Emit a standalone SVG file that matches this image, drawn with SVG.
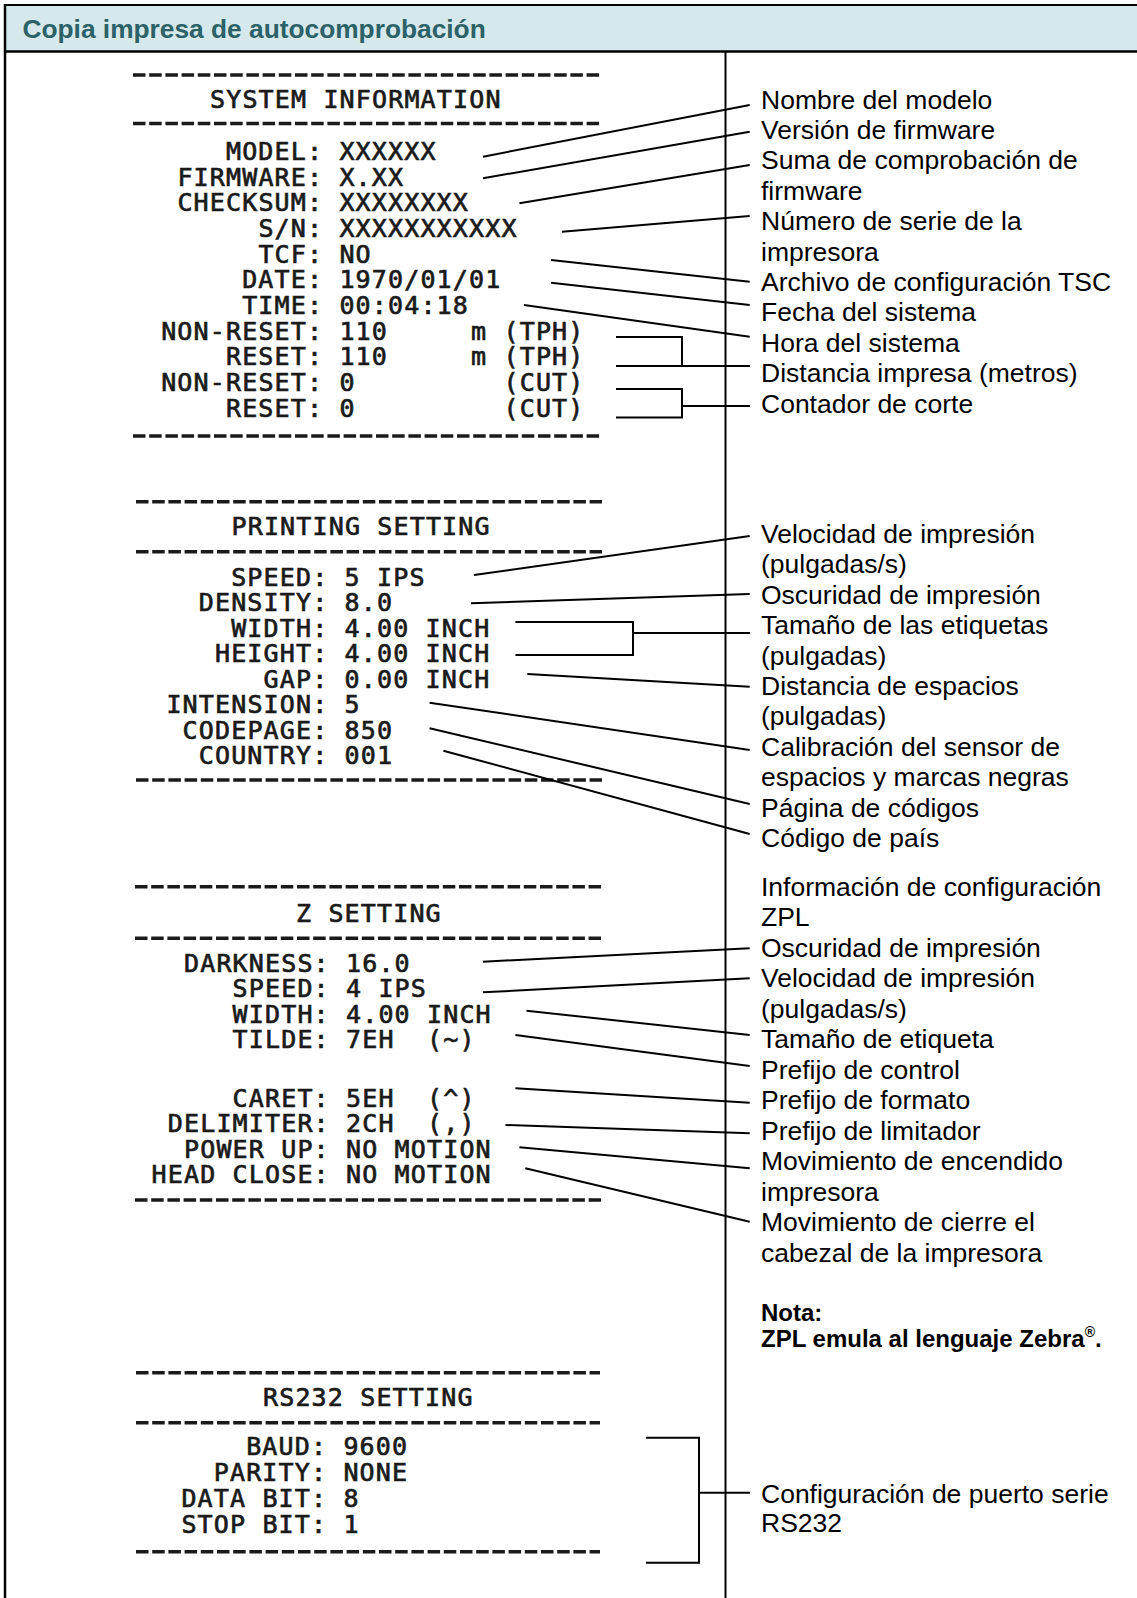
<svg xmlns="http://www.w3.org/2000/svg" width="1137" height="1598" viewBox="0 0 1137 1598">
<style>
.pt{font-family:"DejaVu Sans Mono","Liberation Mono",monospace;font-size:25px;letter-spacing:1.15px;fill:#1a1a1a;stroke:#1a1a1a;stroke-width:0.7px}
.lb{font-family:"Liberation Sans",Arial,sans-serif;font-size:26.5px;fill:#000}
.nt{font-family:"Liberation Sans",Arial,sans-serif;font-size:24px;font-weight:bold;fill:#000}
.ttl{font-family:"Liberation Sans",Arial,sans-serif;font-size:26.3px;font-weight:bold;fill:#2c6267}
.dash{stroke:#1a1a1a;stroke-width:3.6;stroke-dasharray:12.5 3.7;fill:none}
.cn{stroke:#000;stroke-width:2;fill:none}
.frame{stroke:#000;fill:none}
</style>
<rect width="1137" height="1598" fill="#fff"/>
<g id="header">
<rect x="5" y="5" width="1132" height="46" fill="#d5e8eb"/>
<text class="ttl" x="22.5" y="38">Copia impresa de autocomprobación</text>
</g>
<g id="frame">
<path class="frame" stroke-width="2" d="M4,5 H1137"/>
<path class="frame" stroke-width="2.5" d="M5,4 V1598"/>
<path class="frame" stroke-width="2.5" d="M4,51.5 H1137"/>
<path class="frame" stroke-width="2" d="M725.5,51 V1598"/>
</g>

<g id="printout-system">
<path class="dash" d="M133,75 H601 M133,123.5 H601 M133,436 H601"/>
<text class="pt" x="210" y="108">SYSTEM INFORMATION</text>
<g text-anchor="end">
<text class="pt" x="323.2" y="160">MODEL:</text>
<text class="pt" x="323.2" y="185.7">FIRMWARE:</text>
<text class="pt" x="323.2" y="211.3">CHECKSUM:</text>
<text class="pt" x="323.2" y="237">S/N:</text>
<text class="pt" x="323.2" y="262.7">TCF:</text>
<text class="pt" x="323.2" y="288.3">DATE:</text>
<text class="pt" x="323.2" y="314">TIME:</text>
<text class="pt" x="323.2" y="339.7">NON-RESET:</text>
<text class="pt" x="323.2" y="365.3">RESET:</text>
<text class="pt" x="323.2" y="391">NON-RESET:</text>
<text class="pt" x="323.2" y="416.7">RESET:</text>
</g>
<text class="pt" x="339.4" y="160">XXXXXX</text>
<text class="pt" x="339.4" y="185.7">X.XX</text>
<text class="pt" x="339.4" y="211.3">XXXXXXXX</text>
<text class="pt" x="339.4" y="237">XXXXXXXXXXX</text>
<text class="pt" x="339.4" y="262.7">NO</text>
<text class="pt" x="339.4" y="288.3">1970/01/01</text>
<text class="pt" x="339.4" y="314">00:04:18</text>
<text class="pt" x="339.4" y="339.7">110<tspan x="471">m</tspan><tspan x="503.5">(TPH)</tspan></text>
<text class="pt" x="339.4" y="365.3">110<tspan x="471">m</tspan><tspan x="503.5">(TPH)</tspan></text>
<text class="pt" x="339.4" y="391">0<tspan x="503.5">(CUT)</tspan></text>
<text class="pt" x="339.4" y="416.7">0<tspan x="503.5">(CUT)</tspan></text>
</g>

<g id="printout-printing">
<path class="dash" d="M136,501.7 H602 M136,551.7 H602 M136,780 H602"/>
<text class="pt" x="231.5" y="535">PRINTING SETTING</text>
<g text-anchor="end">
<text class="pt" x="328.4" y="586">SPEED:</text>
<text class="pt" x="328.4" y="611.4">DENSITY:</text>
<text class="pt" x="328.4" y="636.9">WIDTH:</text>
<text class="pt" x="328.4" y="662.3">HEIGHT:</text>
<text class="pt" x="328.4" y="687.7">GAP:</text>
<text class="pt" x="328.4" y="713.2">INTENSION:</text>
<text class="pt" x="328.4" y="738.6">CODEPAGE:</text>
<text class="pt" x="328.4" y="764">COUNTRY:</text>
</g>
<text class="pt" x="344.6" y="586">5 IPS</text>
<text class="pt" x="344.6" y="611.4">8.0</text>
<text class="pt" x="344.6" y="636.9">4.00 INCH</text>
<text class="pt" x="344.6" y="662.3">4.00 INCH</text>
<text class="pt" x="344.6" y="687.7">0.00 INCH</text>
<text class="pt" x="344.6" y="713.2">5</text>
<text class="pt" x="344.6" y="738.6">850</text>
<text class="pt" x="344.6" y="764">001</text>
</g>

<g id="printout-z">
<path class="dash" d="M135,886.7 H601 M135,938.3 H601 M135,1200 H601"/>
<text class="pt" x="296" y="921.7">Z SETTING</text>
<g text-anchor="end">
<text class="pt" x="329.8" y="971.7">DARKNESS:</text>
<text class="pt" x="329.8" y="997.2">SPEED:</text>
<text class="pt" x="329.8" y="1022.7">WIDTH:</text>
<text class="pt" x="329.8" y="1048.2">TILDE:</text>
<text class="pt" x="329.8" y="1106.7">CARET:</text>
<text class="pt" x="329.8" y="1132.2">DELIMITER:</text>
<text class="pt" x="329.8" y="1157.7">POWER UP:</text>
<text class="pt" x="329.8" y="1183.2">HEAD CLOSE:</text>
</g>
<text class="pt" x="346" y="971.7">16.0</text>
<text class="pt" x="346" y="997.2">4 IPS</text>
<text class="pt" x="346" y="1022.7">4.00 INCH</text>
<text class="pt" x="346" y="1048.2">7EH<tspan x="427">(~)</tspan></text>
<text class="pt" x="346" y="1106.7">5EH<tspan x="427">(^)</tspan></text>
<text class="pt" x="346" y="1132.2">2CH<tspan x="427">(,)</tspan></text>
<text class="pt" x="346" y="1157.7">NO MOTION</text>
<text class="pt" x="346" y="1183.2">NO MOTION</text>
</g>

<g id="printout-rs232">
<path class="dash" d="M136,1372.7 H600 M136,1422.7 H600 M136,1551.7 H600"/>
<text class="pt" x="263" y="1406">RS232 SETTING</text>
<g text-anchor="end">
<text class="pt" x="327.2" y="1455">BAUD:</text>
<text class="pt" x="327.2" y="1480.7">PARITY:</text>
<text class="pt" x="327.2" y="1506.5">DATA BIT:</text>
<text class="pt" x="327.2" y="1532.5">STOP BIT:</text>
</g>
<text class="pt" x="343.4" y="1455">9600</text>
<text class="pt" x="343.4" y="1480.7">NONE</text>
<text class="pt" x="343.4" y="1506.5">8</text>
<text class="pt" x="343.4" y="1532.5">1</text>
</g>

<g id="connectors">
<path class="cn" d="M483,156.7 L749.7,105"/>
<path class="cn" d="M483,178.3 L749.7,131.7"/>
<path class="cn" d="M519.4,203.3 L749.7,165"/>
<path class="cn" d="M562,231.7 L749.7,216"/>
<path class="cn" d="M551,260 L749.7,281.7"/>
<path class="cn" d="M551,282.7 L749.7,305"/>
<path class="cn" d="M524,305 L749.7,336.7"/>
<path class="cn" d="M616,337 H682 V366 M616,366 H750"/>
<path class="cn" d="M616,389 H682 V417.5 H616 M682,406 H750"/>
<path class="cn" d="M474,575 L749.7,536"/>
<path class="cn" d="M471,603.3 L749.7,594"/>
<path class="cn" d="M515.4,622 H633 V655 H515.4 M633,633 H750"/>
<path class="cn" d="M527.3,674 L749.7,686.7"/>
<path class="cn" d="M429.6,702.7 L749.7,750"/>
<path class="cn" d="M429.6,728.3 L749.7,804"/>
<path class="cn" d="M443.4,750.7 L749.7,834"/>
<path class="cn" d="M483,961.7 L749.7,948.3"/>
<path class="cn" d="M483,992.3 L749.7,978.3"/>
<path class="cn" d="M526.5,1010.7 L749.7,1035"/>
<path class="cn" d="M515.4,1035 L749.7,1066"/>
<path class="cn" d="M515.4,1088.3 L749.7,1102.7"/>
<path class="cn" d="M505.5,1125 L749.7,1133.3"/>
<path class="cn" d="M519.4,1147.3 L749.7,1168.3"/>
<path class="cn" d="M525.3,1168.3 L749.7,1221.7"/>
<path class="cn" d="M646,1437.7 H699 V1562.7 H646 M699,1492.7 H750"/>
</g>

<g id="label-nombre"><text class="lb" x="761" y="108.5">Nombre del modelo</text></g>
<g id="label-version"><text class="lb" x="761" y="138.9">Versión de firmware</text></g>
<g id="label-checksum"><text class="lb" x="761" y="169.3">Suma de comprobación de</text><text class="lb" x="761" y="199.7">firmware</text></g>
<g id="label-serie"><text class="lb" x="761" y="230.1">Número de serie de la</text><text class="lb" x="761" y="260.5">impresora</text></g>
<g id="label-tcf"><text class="lb" x="761" y="290.9">Archivo de configuración TSC</text></g>
<g id="label-fecha"><text class="lb" x="761" y="321.3">Fecha del sistema</text></g>
<g id="label-hora"><text class="lb" x="761" y="351.7">Hora del sistema</text></g>
<g id="label-distancia"><text class="lb" x="761" y="382.1">Distancia impresa (metros)</text></g>
<g id="label-contador"><text class="lb" x="761" y="412.5">Contador de corte</text></g>

<g id="label-velocidad1"><text class="lb" x="761" y="543">Velocidad de impresión</text><text class="lb" x="761" y="573.4">(pulgadas/s)</text></g>
<g id="label-oscuridad1"><text class="lb" x="761" y="603.8">Oscuridad de impresión</text></g>
<g id="label-tamano1"><text class="lb" x="761" y="634.2">Tamaño de las etiquetas</text><text class="lb" x="761" y="664.6">(pulgadas)</text></g>
<g id="label-gap"><text class="lb" x="761" y="695">Distancia de espacios</text><text class="lb" x="761" y="725.4">(pulgadas)</text></g>
<g id="label-calibracion"><text class="lb" x="761" y="755.8">Calibración del sensor de</text><text class="lb" x="761" y="786.2">espacios y marcas negras</text></g>
<g id="label-pagina"><text class="lb" x="761" y="816.6">Página de códigos</text></g>
<g id="label-pais"><text class="lb" x="761" y="847">Código de país</text></g>

<g id="label-zpl"><text class="lb" x="761" y="895.5">Información de configuración</text><text class="lb" x="761" y="926">ZPL</text></g>
<g id="label-oscuridad2"><text class="lb" x="761" y="956.5">Oscuridad de impresión</text></g>
<g id="label-velocidad2"><text class="lb" x="761" y="987">Velocidad de impresión</text><text class="lb" x="761" y="1017.5">(pulgadas/s)</text></g>
<g id="label-tamano2"><text class="lb" x="761" y="1048">Tamaño de etiqueta</text></g>
<g id="label-control"><text class="lb" x="761" y="1078.5">Prefijo de control</text></g>
<g id="label-formato"><text class="lb" x="761" y="1109">Prefijo de formato</text></g>
<g id="label-limitador"><text class="lb" x="761" y="1139.5">Prefijo de limitador</text></g>
<g id="label-encendido"><text class="lb" x="761" y="1170">Movimiento de encendido</text><text class="lb" x="761" y="1200.5">impresora</text></g>
<g id="label-cierre"><text class="lb" x="761" y="1231">Movimiento de cierre el</text><text class="lb" x="761" y="1261.5">cabezal de la impresora</text></g>

<g id="note"><text class="nt" x="761" y="1321">Nota:</text><text class="nt" x="761" y="1347">ZPL emula al lenguaje Zebra<tspan font-size="14" dy="-10">®</tspan><tspan dy="10">.</tspan></text></g>

<g id="label-rs232"><text class="lb" x="761" y="1502.5">Configuración de puerto serie</text><text class="lb" x="761" y="1531.5">RS232</text></g>
</svg>
